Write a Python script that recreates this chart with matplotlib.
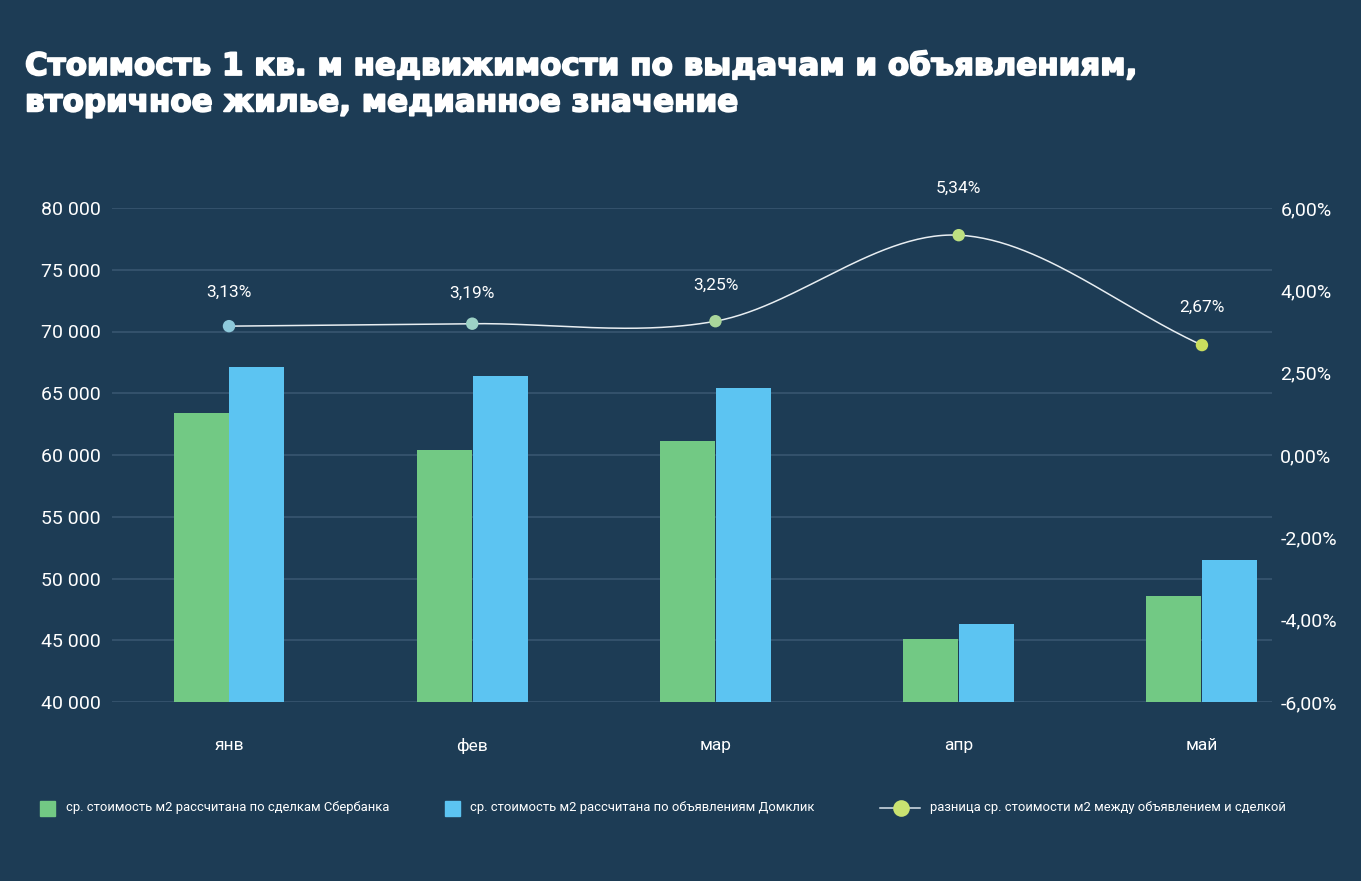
import numpy as np
import matplotlib
matplotlib.use("Agg")
import matplotlib.pyplot as plt
import matplotlib.patheffects as pe
from matplotlib.patches import Rectangle
from matplotlib.lines import Line2D

# ---- data ----
categories = ["янв", "фев", "мар", "апр", "май"]
sber_deals = [63400, 60400, 61100, 45100, 48600]
domclick_ads = [67100, 66400, 65400, 46300, 51500]
diff_pct = [3.13, 3.19, 3.25, 5.34, 2.67]
diff_labels = ["3,13%", "3,19%", "3,25%", "5,34%", "2,67%"]
left_ticks = [40000, 45000, 50000, 55000, 60000, 65000, 70000, 75000, 80000]
left_ticklabels = ["40 000", "45 000", "50 000", "55 000", "60 000", "65 000", "70 000", "75 000", "80 000"]
right_ticks = [6, 4, 2, 0, -2, -4, -6]
right_ticklabels = ["6,00%", "4,00%", "2,50%", "0,00%", "-2,00%", "-4,00%", "-6,00%"]
title = "Стоимость 1 кв. м недвижимости по выдачам и объявлениям,\nвторичное жилье, медианное значение"
legend_labels = ["ср. стоимость м2 рассчитана по сделкам Сбербанка",
                 "ср. стоимость м2 рассчитана по объявлениям Домклик",
                 "разница ср. стоимости м2 между объявлением и сделкой"]

# ---- style ----
BG = "#1d3c55"
GRID = "#3a5872"
GREEN = "#72c984"
BLUE = "#5cc4f2"
TXT = "#ffffff"
marker_colors = ["#8ecadc", "#9dd2c6", "#a9d69b", "#bde081", "#cade5e"]
FONT = ["Roboto", "DejaVu Sans"]

W, H = 1361, 881
fig = plt.figure(figsize=(W / 100, H / 100), dpi=100, facecolor=BG)
ax_l, ax_r, ax_t, ax_b = 112, 1272, 208, 702
ax = fig.add_axes([ax_l / W, 1 - ax_b / H, (ax_r - ax_l) / W, (ax_b - ax_t) / H])
ax.set_facecolor(BG)

x = np.arange(len(categories))
bw = 0.226
ax.bar(x - bw / 2 - 0.002, sber_deals, width=bw, color=GREEN, zorder=2)
ax.bar(x + bw / 2 + 0.002, domclick_ads, width=bw, color=BLUE, zorder=2)
ax.set_ylim(40000, 80000)
ax.set_xlim(-0.481, 4.288)
ax.set_yticks(left_ticks)
ax.set_yticklabels(left_ticklabels, fontsize=14, color=TXT, family=FONT)
for lab in ax.get_yticklabels():
    lab.set_ha("left")
ax.tick_params(axis="y", length=0, pad=51)
ax.set_xticks(x)
ax.set_xticklabels(categories, fontsize=12.5, color=TXT, family=FONT)
ax.tick_params(axis="x", length=0, pad=26)
ax.grid(axis="y", color=GRID, lw=1.1, zorder=0)
ax.set_axisbelow(True)
for s in ax.spines.values():
    s.set_visible(False)

ax2 = ax.twinx()
ax2.set_ylim(-6, 6)
ax2.set_yticks(right_ticks)
ax2.set_yticklabels(right_ticklabels, fontsize=14, color=TXT, family=FONT)
ax2.tick_params(axis="y", length=0, pad=6)
for s in ax2.spines.values():
    s.set_visible(False)

# smooth curve (Catmull-Rom through the data points)
px = x.astype(float)
py = np.array(diff_pct, dtype=float)
P = np.column_stack([px, py])
Pext = np.vstack([2 * P[0] - P[1], P, 2 * P[-1] - P[-2]])
curve = []
t = np.linspace(0, 1, 60)
for i in range(1, len(Pext) - 2):
    p0, p1, p2, p3 = Pext[i - 1], Pext[i], Pext[i + 1], Pext[i + 2]
    m1 = (p2 - p0) / 2
    m2 = (p3 - p1) / 2
    h00 = 2 * t**3 - 3 * t**2 + 1
    h10 = t**3 - 2 * t**2 + t
    h01 = -2 * t**3 + 3 * t**2
    h11 = t**3 - t**2
    seg = (h00[:, None] * p1 + h10[:, None] * m1 + h01[:, None] * p2 + h11[:, None] * m2)
    curve.append(seg)
curve = np.vstack(curve)
ax2.plot(curve[:, 0], curve[:, 1], color="#e8eef2", lw=1.1, zorder=3)
ax2.scatter(px, py, s=80, c=marker_colors, zorder=4, edgecolors="none")
label_offsets = [34, 30, 36, 47, 38]
for xi, yi, lab, off in zip(px, py, diff_labels, label_offsets):
    ax2.annotate(lab, (xi, yi), xytext=(0, off * 0.72), textcoords="offset points",
                 ha="center", va="center", fontsize=12.5, color=TXT, family=FONT,
                 annotation_clip=False)

# title
fig.text(25 / W, 1 - 52 / H, title, ha="left", va="top", fontsize=22.3,
         fontweight="bold", color=TXT, family=["DejaVu Sans"], linespacing=1.32,
         path_effects=[pe.withStroke(linewidth=1.3, foreground=TXT)])

# legend (manual)
ly = 1 - 808 / H
sq = 15
fs_leg = 9.4
fig.patches.append(Rectangle((40 / W, ly - (sq / 2) / H), sq / W, sq / H,
                             transform=fig.transFigure, color=GREEN, figure=fig))
fig.text(66 / W, ly, legend_labels[0], ha="left", va="center", fontsize=fs_leg,
         color=TXT, family=FONT)
fig.patches.append(Rectangle((445 / W, ly - (sq / 2) / H), sq / W, sq / H,
                             transform=fig.transFigure, color=BLUE, figure=fig))
fig.text(470 / W, ly, legend_labels[1], ha="left", va="center", fontsize=fs_leg,
         color=TXT, family=FONT)
fig.lines.append(Line2D([880 / W, 920 / W], [ly, ly], transform=fig.transFigure,
                        color="#d8e2ea", lw=1.1, figure=fig))
fig.lines.append(Line2D([901 / W], [ly], transform=fig.transFigure, marker="o",
                        markersize=12, color="#c9e271", markeredgecolor="none", figure=fig))
fig.text(930 / W, ly, legend_labels[2], ha="left", va="center", fontsize=fs_leg,
         color=TXT, family=FONT)

fig.savefig("out.png", dpi=100, facecolor=BG)
